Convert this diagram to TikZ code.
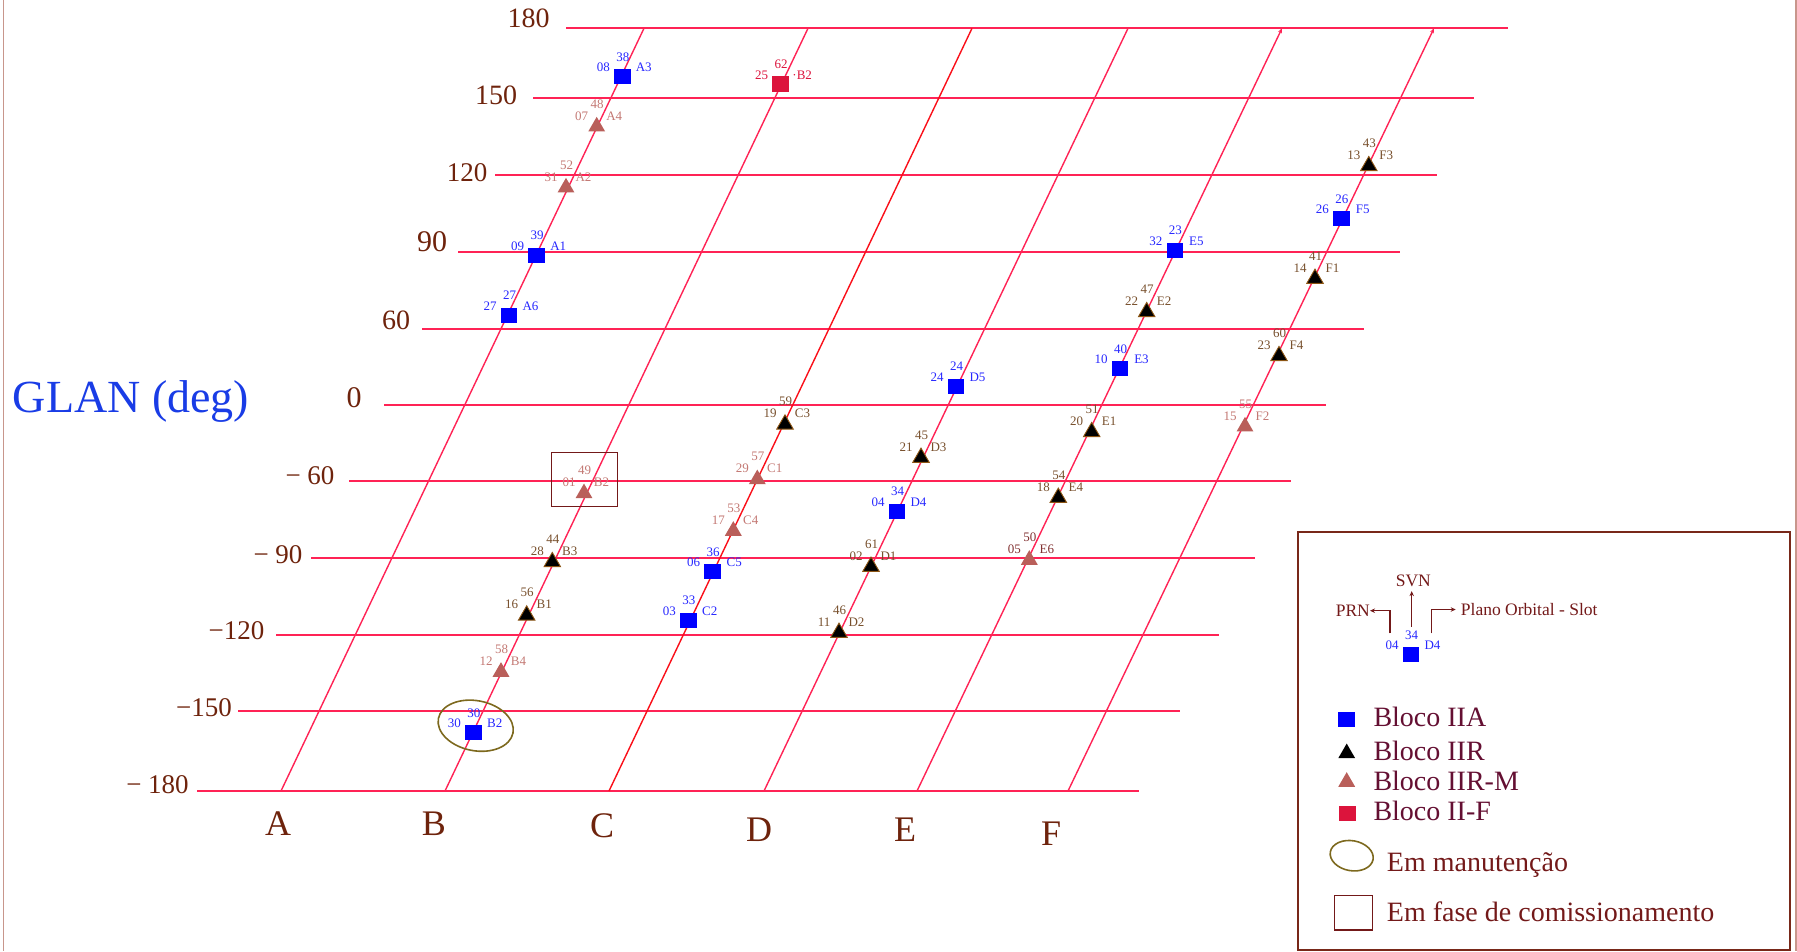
\documentclass[tikz,border=0pt]{standalone}
\usepackage{fontspec}
\setmainfont{Liberation Serif}
\usetikzlibrary{shapes.geometric,arrows.meta}
\definecolor{gridred}{RGB}{255,35,85}
\definecolor{gridredC}{RGB}{250,15,25}
\definecolor{axisbrown}{RGB}{110,35,12}
\definecolor{glanblue}{RGB}{25,60,230}
\definecolor{iiablue}{RGB}{0,0,255}
\definecolor{iiatext}{RGB}{40,40,255}
\definecolor{iiredge}{RGB}{140,85,20}
\definecolor{iirtext}{RGB}{120,80,45}
\definecolor{iirmfill}{RGB}{185,95,90}
\definecolor{iirmtext}{RGB}{195,120,115}
\definecolor{esixtext}{RGB}{130,50,50}
\definecolor{iifred}{RGB}{220,20,60}
\definecolor{mymaroon}{RGB}{115,25,25}
\definecolor{legtext}{RGB}{100,15,50}
\definecolor{mntolive}{RGB}{125,105,30}
\definecolor{framecol}{RGB}{200,150,140}
\definecolor{legbox}{RGB}{120,40,25}

\newcommand\sqsat[8]{%
  \node[#1] (#3) at (#4,#5) {};
  \node[lab,text=#2] (#3p) at ([shift={(-19,-9)}]#3.center) {#6};
  \node[lab,text=#2] (#3s) at ([shift={(0.5,-19.5)}]#3.center) {#7};
  \node[lab,text=#2] (#3o) at ([shift={(21.5,-9)}]#3.center) {#8};}
\newcommand\trsat[8]{%
  \coordinate (#3c) at (#4,#5);
  \node[#1] (#3) at (#4,{#5+2.6}) {};
  \node[lab,text=#2] (#3p) at ([shift={(-15,-8)}]#3c) {#6};
  \node[lab,text=#2] (#3s) at ([shift={(0.5,-20)}]#3c) {#7};
  \node[lab,text=#2] (#3o) at ([shift={(17.5,-8)}]#3c) {#8};}

\begin{document}
\begin{tikzpicture}[x=1pt,y=-1pt,
  hline/.style={draw=gridred,line width=1.7pt},
  dline/.style={draw=gridred,line width=1.4pt},
  axlab/.style={text=axisbrown,inner sep=0pt,anchor=center},
  collab/.style={text=axisbrown,inner sep=0pt,font=\fontsize{36}{36}\selectfont},
  lab/.style={inner sep=0pt,anchor=center,font=\fontsize{13}{13}\selectfont},
  sqA/.style={rectangle,fill=iiablue,minimum width=16.5pt,minimum height=15pt,inner sep=0pt},
  sqF/.style={rectangle,fill=iifred,minimum width=17pt,minimum height=16pt,inner sep=0pt},
  triR/.style={regular polygon,regular polygon sides=3,fill=black,draw=iiredge,line width=0.9pt,minimum size=19pt,inner sep=0pt},
  triM/.style={regular polygon,regular polygon sides=3,fill=iirmfill,minimum size=19.5pt,inner sep=0pt},
  legtxt/.style={text=legtext,inner sep=0pt,anchor=base west,font=\fontsize{28}{28}\selectfont},
  legsmall/.style={text=mymaroon,inner sep=0pt,font=\fontsize{17.5}{17.5}\selectfont},
  legarrow/.style={draw=mymaroon,line width=1.5pt,-{Stealth[length=5pt,width=4.5pt]}},
  mnt/.style={draw=mntolive,line width=1.6pt},
  comm/.style={draw=mymaroon,line width=1.4pt}]
\useasboundingbox (0,0) rectangle (1797,951);

% page frame lines
\coordinate (fl1) at (3.7,0); \coordinate (fl2) at (3.7,951);
\coordinate (fr1) at (1796,0); \coordinate (fr2) at (1796,951);
\draw[draw=framecol,line width=1.2pt] (fl1) -- (fl2);
\draw[draw=framecol,line width=1.2pt] (fr1) -- (fr2);

% horizontal GLAN lines and labels
\foreach \n/\y/\xa/\xb/\lab/\lx/\ly/\fs in {
  1/28.3/566/1508/{180}/528.5/18/28,
  2/97.7/533/1474/{150}/496/95/28,
  3/175/495/1437/{120}/467/173/27,
  4/251.7/458/1400/{90}/432/242/30,
  5/328.7/422/1364/{60}/396/320/28,
  6/405.3/384/1326/{0}/354/398/30,
  7/481/349/1291/{− 60}/310/476/27,
  8/558/311/1255/{− 90}/278/555/27,
  9/634.7/276/1219/{−120}/236.5/631/27,
  10/711.3/238/1180/{−150}/204/708/27,
  11/791/197/1139/{− 180}/157.5/785/27}{
  \coordinate (ha\n) at (\xa,\y);
  \coordinate (hb\n) at (\xb,\y);
  \draw[hline] (ha\n) -- (hb\n);
  \node[axlab,font=\fontsize{\fs}{\fs}\selectfont] (hl\n) at (\lx,\ly) {\lab};
}

% orbital plane lines
\foreach \c/\xb/\xt in {A/281/644,B/445/808,D/764/1128}{
  \coordinate (db\c) at (\xb,791);
  \coordinate (dt\c) at (\xt,28.3);
  \draw[dline] (db\c) -- (dt\c);
}
\coordinate (dbC) at (609,791); \coordinate (dtC) at (972,28.3);
\draw[dline,draw=gridredC] (dbC) -- (dtC);
\foreach \c/\xb/\xt in {E/917/1282,F/1068/1434}{
  \coordinate (db\c) at (\xb,791);
  \coordinate (dt\c) at (\xt,28.3);
  \draw[dline,-{Stealth[length=5pt,width=4pt]}] (db\c) -- (dt\c);
}

% column letters
\node[collab] (cA) at (278,824) {A};
\node[collab] (cB) at (434,824) {B};
\node[collab] (cC) at (602,826) {C};
\node[collab] (cD) at (759,830) {D};
\node[collab] (cE) at (905,830) {E};
\node[collab] (cF) at (1051,834) {F};

% axis title
\node[text=glanblue,inner sep=0pt,font=\fontsize{46}{46}\selectfont] (glan) at (131,401) {GLAN (deg)};

% Bloco IIA
\sqsat{sqA}{iiatext}{sA3}{622.3}{76.7}{08}{38}{A3}
\sqsat{sqA}{iiatext}{sA1}{536.7}{255}{09}{39}{A1}
\sqsat{sqA}{iiatext}{sA6}{509}{315}{27}{27}{A6}
\sqsat{sqA}{iiatext}{sD5}{956}{386}{24}{24}{D5}
\sqsat{sqA}{iiatext}{sE3}{1120}{368.3}{10}{40}{E3}
\sqsat{sqA}{iiatext}{sC5}{712.7}{571.7}{06}{36}{C5}
\sqsat{sqA}{iiatext}{sC2}{688.3}{620}{03}{33}{C2}
\sqsat{sqA}{iiatext}{sB2m}{473.3}{732.7}{30}{30}{B2}
\sqsat{sqA}{iiatext}{sE5}{1174.8}{250}{32}{23}{E5}
\sqsat{sqA}{iiatext}{sF5}{1341.3}{218.3}{26}{26}{F5}
\sqsat{sqA}{iiatext}{sD4}{897}{511}{04}{34}{D4}
% Bloco II-F
\sqsat{sqF}{iifred}{sB2f}{780.7}{84}{25}{62}{·B2}
% Bloco IIR
\trsat{triR}{iirtext}{sC3}{785}{421.7}{19}{59}{C3}
\trsat{triR}{iirtext}{sE2}{1146.7}{309.3}{22}{47}{E2}
\trsat{triR}{iirtext}{sF1}{1315}{276}{14}{41}{F1}
\trsat{triR}{iirtext}{sF4}{1279}{353.3}{23}{60}{F4}
\trsat{triR}{iirtext}{sE1}{1091.7}{429.3}{20}{51}{E1}
\trsat{triR}{iirtext}{sD3}{921}{455}{21}{45}{D3}
\trsat{triR}{iirtext}{sE4}{1058.3}{495}{18}{54}{E4}
\trsat{triR}{iirtext}{sD1}{871}{564}{02}{61}{D1}
\trsat{triR}{iirtext}{sD2}{839}{630}{11}{46}{D2}
\trsat{triR}{iirtext}{sB3}{552.3}{559.3}{28}{44}{B3}
\trsat{triR}{iirtext}{sB1}{526.7}{612.7}{16}{56}{B1}
\trsat{triR}{iirtext}{sF3}{1368.8}{163.3}{13}{43}{F3}
% Bloco IIR-M
\trsat{triM}{iirmtext}{sA4}{596.7}{124}{07}{48}{A4}
\trsat{triM}{iirmtext}{sA2}{566}{185}{31}{52}{A2}
\trsat{triM}{iirmtext}{sB2c}{584}{490.7}{01}{49}{B2}
\trsat{triM}{iirmtext}{sC1}{757.3}{476.7}{29}{57}{C1}
\trsat{triM}{iirmtext}{sC4}{733.3}{528.3}{17}{53}{C4}
\trsat{triM}{iirmtext}{sF2}{1245}{424}{15}{55}{F2}
\trsat{triM}{esixtext}{sE6}{1029.3}{557.3}{05}{50}{E6}
\trsat{triM}{iirmtext}{sB4}{501}{669.3}{12}{58}{B4}

% status marks
\draw[comm] (551.7,452.3) rectangle (617.7,506.7);
\draw[mnt,rotate around={-11:(475.7,725.7)}] (475.7,725.7) ellipse [x radius=38pt, y radius=25pt];

% legend
\draw[draw=legbox,line width=2pt] (1298.3,531.7) rectangle (1790,949.5);
\sqsat{sqA}{iiatext}{lgx}{1411}{654.3}{04}{34}{D4}
\node[legsmall,anchor=east] (lprn) at (1370,610.7) {PRN};
\node[legsmall] (lsvn) at (1413.3,581) {SVN};
\node[legsmall,anchor=west] (lslot) at (1460.7,609.5) {Plano Orbital - Slot};
\coordinate (la1) at (1390,633.3);
\coordinate (la2) at (1411.7,626.7);
\coordinate (la3) at (1431.7,633.3);
\draw[legarrow] (la1) |- (lprn.east);
\draw[legarrow,shorten >=4pt] (la2) -- (la2 |- lsvn.south);
\draw[legarrow,shorten >=5pt] (la3) |- (lslot.west);

\node[sqA,minimum width=17pt,minimum height=15.5pt] (lg1) at (1346.7,719.3) {};
\node[legtxt] (lt1) at (1373.3,726.5) {Bloco IIA};
\node[regular polygon,regular polygon sides=3,fill=black,minimum size=19.5pt,inner sep=0pt] (lg2) at (1346.7,753.3) {};
\node[legtxt] (lt2) at (1373.3,760) {Bloco IIR};
\node[triM] (lg3) at (1346.7,781.9) {};
\node[legtxt] (lt3) at (1373.3,790) {Bloco IIR-M};
\node[sqF,minimum width=17pt,minimum height=15.5pt] (lg4) at (1347.3,813.3) {};
\node[legtxt] (lt4) at (1373.3,820) {Bloco II-F};
\draw[mnt,rotate around={-10:(1351.7,855.7)}] (1351.7,855.7) ellipse [x radius=21.7pt, y radius=15pt];
\node[legtxt,text=mymaroon] (lt5) at (1386.7,871.5) {Em manutenção};
\draw[comm] (1334.3,895.7) rectangle (1372.3,930);
\node[legtxt,text=mymaroon] (lt6) at (1386.7,921) {Em fase de comissionamento};
\end{tikzpicture}
\end{document}
